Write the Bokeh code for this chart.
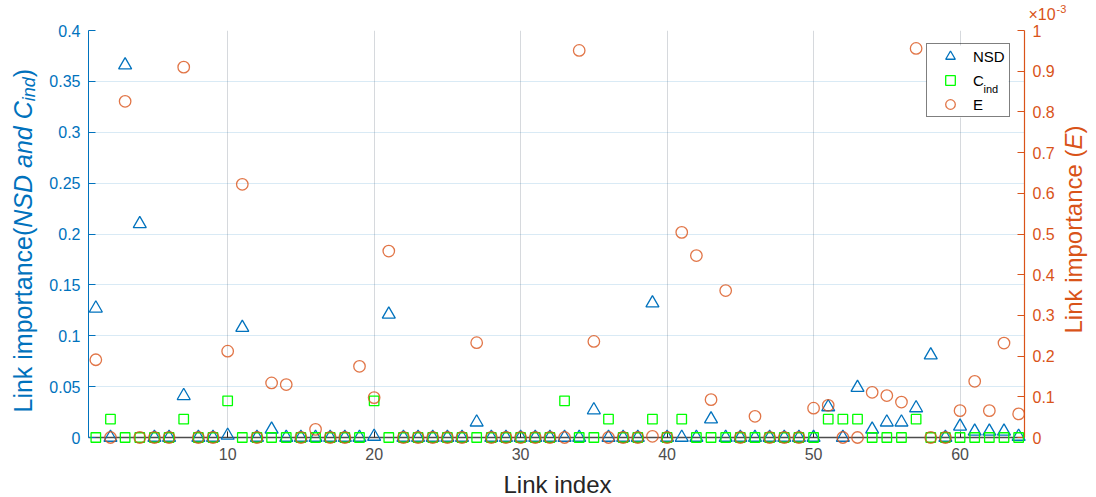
import math
from bokeh.plotting import figure
from bokeh.models import (Range1d, LinearAxis, SingleIntervalTicker, CustomJSTickFormatter,
                          Legend, LegendItem, ColumnDataSource, BoxAnnotation)
from bokeh.core.properties import value
from bokeh.embed import file_html
from bokeh.resources import INLINE

# ---------------- data ----------------
link_index = list(range(1, 65))

nsd = [0.127, 0.0, 0.366, 0.210, 0.0, 0.0, 0.041, 0.0, 0.0, 0.002,
       0.108, 0.0, 0.008, 0.0, 0.0, 0.0, 0.0, 0.0, 0.0, 0.001,
       0.121, 0.0, 0.0, 0.0, 0.0, 0.0, 0.015, 0.0, 0.0, 0.0,
       0.0, 0.0, 0.0, 0.0, 0.027, 0.0, 0.0, 0.0, 0.132, 0.0,
       0.0, 0.0, 0.018, 0.0, 0.0, 0.0, 0.0, 0.0, 0.0, 0.0,
       0.030, 0.0, 0.049, 0.008, 0.015, 0.015, 0.029, 0.081, 0.0, 0.011,
       0.006, 0.006, 0.006, 0.001]

c_ind = [0.0, 0.018, 0.0, 0.0, 0.0, 0.0, 0.018, 0.0, 0.0, 0.036,
         0.0, 0.0, 0.0, 0.0, 0.0, 0.0, 0.0, 0.0, 0.0, 0.036,
         0.0, 0.0, 0.0, 0.0, 0.0, 0.0, 0.0, 0.0, 0.0, 0.0,
         0.0, 0.0, 0.036, 0.0, 0.0, 0.018, 0.0, 0.0, 0.018, 0.0,
         0.018, 0.0, 0.0, 0.0, 0.0, 0.0, 0.0, 0.0, 0.0, 0.0,
         0.018, 0.018, 0.018, 0.0, 0.0, 0.0, 0.018, 0.0, 0.0, 0.0,
         0.0, 0.0, 0.0, 0.0]

e_imp = [1.91e-4, 0.0, 8.26e-4, 0.0, 0.0, 0.0, 9.10e-4, 0.0, 0.0, 2.12e-4,
         6.22e-4, 0.0, 1.34e-4, 1.30e-4, 0.0, 0.20e-4, 0.0, 0.0, 1.75e-4, 0.98e-4,
         4.58e-4, 0.0, 0.0, 0.0, 0.0, 0.0, 2.33e-4, 0.0, 0.0, 0.0,
         0.0, 0.0, 0.0, 9.51e-4, 2.36e-4, 0.0, 0.0, 0.0, 0.03e-4, 0.0,
         5.04e-4, 4.47e-4, 0.93e-4, 3.61e-4, 0.0, 0.52e-4, 0.0, 0.0, 0.0, 0.72e-4,
         0.79e-4, 0.0, 0.0, 1.11e-4, 1.03e-4, 0.87e-4, 9.56e-4, 0.0, 0.0, 0.66e-4,
         1.38e-4, 0.66e-4, 2.32e-4, 0.58e-4]

series_labels = ["NSD", "C", "E"]

# ---------------- style / layout ----------------
FONT = "Liberation Sans"
BLUE = "#0072BD"
GREEN = "#00FF00"
ORANGE = "#D95319"
DARK = "#262626"
GRAY = "#4D4D4D"

W, H = 1096, 497
FL, FR, FT, FB = 88, 1024, 30, 437          # frame edges in canvas pixels
X0, X1 = 0.5, 64.4
Y0, Y1 = 0.0, 0.4


def dx(px):
    return X0 + (px - FL) * (X1 - X0) / (FR - FL)


def dy(py):
    return Y0 + (FB - py) * (Y1 - Y0) / (FB - FT)


p = figure(width=W, height=H, output_backend="svg", toolbar_location=None,
           x_range=Range1d(X0, X1), y_range=Range1d(Y0, Y1),
           min_border_left=FL, min_border_right=W - FR,
           min_border_top=FT, min_border_bottom=H - FB)
p.extra_y_ranges = {"E": Range1d(0, 1e-3)}
p.outline_line_color = None
p.background_fill_color = "white"

# x axis
xt = SingleIntervalTicker(interval=10, num_minor_ticks=0)
xa = p.xaxis[0]
xa.ticker = xt
p.xgrid[0].ticker = xt
xa.axis_line_color = GRAY
xa.axis_line_width = 1.5
xa.major_tick_line_color = DARK
xa.major_tick_in = 6
xa.major_tick_out = 0
xa.minor_tick_line_color = None
xa.major_label_text_color = GRAY
xa.major_label_text_font = FONT
xa.major_label_text_font_size = "16px"
xa.major_label_standoff = 10

# left axis
yt = SingleIntervalTicker(interval=0.05, num_minor_ticks=0)
ya = p.yaxis[0]
ya.ticker = yt
p.ygrid[0].ticker = yt
ya.formatter = CustomJSTickFormatter(code="return String(Math.round(tick*100)/100);")
ya.axis_line_color = BLUE
ya.major_tick_line_color = BLUE
ya.major_tick_in = 7
ya.major_tick_out = 0
ya.minor_tick_line_color = None
ya.major_label_text_color = BLUE
ya.major_label_text_font = FONT
ya.major_label_text_font_size = "16px"
ya.major_label_standoff = 8

# right axis
ra = LinearAxis(y_range_name="E",
                ticker=SingleIntervalTicker(interval=1e-4, num_minor_ticks=0),
                formatter=CustomJSTickFormatter(code="return String(Math.round(tick*1e4)/10);"))
ra.axis_line_color = ORANGE
ra.axis_line_width = 1.2
ra.major_tick_line_color = ORANGE
ra.major_tick_in = 7
ra.major_tick_out = 0
ra.minor_tick_line_color = None
ra.major_label_text_color = ORANGE
ra.major_label_text_font = FONT
ra.major_label_text_font_size = "16px"
ra.major_label_standoff = 8
p.add_layout(ra, "right")

# grids
p.xgrid.grid_line_color = "#D6D9DD"
p.ygrid.grid_line_color = BLUE
p.ygrid.grid_line_alpha = 0.15

# white backdrop for the legend (covers the grid lines under it)
p.add_layout(BoxAnnotation(left=dx(926), right=dx(1008), top=dy(45), bottom=dy(117),
                           fill_color="white", fill_alpha=1.0, line_color=None,
                           level="underlay", editable=False))

# ---------------- marks ----------------
src = ColumnDataSource(dict(x=link_index, nsd=nsd, cind=c_ind, e=e_imp))
r1 = p.scatter("x", "nsd", source=src, marker="triangle", size=13, fill_color=None,
               line_color=BLUE, line_width=1.3, level="overlay")
r2 = p.scatter("x", "cind", source=src, marker="square", size=9.5, fill_color=None,
               line_color=GREEN, line_width=1.3, level="overlay")
r3 = p.scatter("x", "e", source=src, y_range_name="E", marker="circle", size=11.5,
               fill_color=None, line_color=ORANGE, line_alpha=0.8, line_width=1.3,
               level="overlay")

legend = Legend(items=[LegendItem(label=series_labels[0], renderers=[r1]),
                       LegendItem(label=series_labels[1], renderers=[r2]),
                       LegendItem(label=series_labels[2], renderers=[r3])],
                location=(926 - FL, FB - 117), padding=0, spacing=0, margin=0,
                glyph_width=46, glyph_height=24, label_height=24, label_width=36,
                label_standoff=0, label_text_font=FONT, label_text_font_size="15px",
                label_text_color="black", border_line_color="black", border_line_width=1,
                background_fill_alpha=0.0)
p.add_layout(legend)


# ---------------- texts (pixel positions converted to data space) ----------------
def txt(px, py, s, size, color, style="normal", angle=0.0, align="left"):
    p.text(x=[dx(px)], y=[dy(py)], text=[s], text_font=value(FONT),
           text_font_size=value(f"{size}px"), text_color=color,
           text_font_style=value(style), angle=angle, text_align=value(align),
           text_baseline=value("middle"), level="overlay")


UP = math.pi / 2

# left axis title: Link importance(NSD and C_ind)
L = 25
y_start = 412
txt(22, y_start, "Link importance(", L, BLUE, angle=UP)
txt(22, y_start - 7.391 * L, "NSD and C", L, BLUE, "italic", angle=UP)
txt(28, y_start - 12.448 * L, "ind", 18, BLUE, "italic", angle=UP)
txt(22, y_start - 12.448 * L - 1.334 * 18, ")", L, BLUE, angle=UP)

# right axis title: Link importance (E)
R = 24
r_start = 333
txt(1073, r_start, "Link importance (", R, ORANGE, angle=UP)
txt(1073, r_start - 7.669 * R, "E", R, ORANGE, "italic", angle=UP)
txt(1073, r_start - 8.336 * R, ")", R, ORANGE, angle=UP)

# exponent of the right axis
txt(1028, 14, "\u00d710", 16, ORANGE)
txt(1056, 8, "-3", 11, ORANGE)

# x axis title
txt(557, 484, "Link index", 24, DARK, align="center")

# legend subscript
txt(983, 88.5, "ind", 11, "black")

open("out.html", "w").write(file_html(p, INLINE))
